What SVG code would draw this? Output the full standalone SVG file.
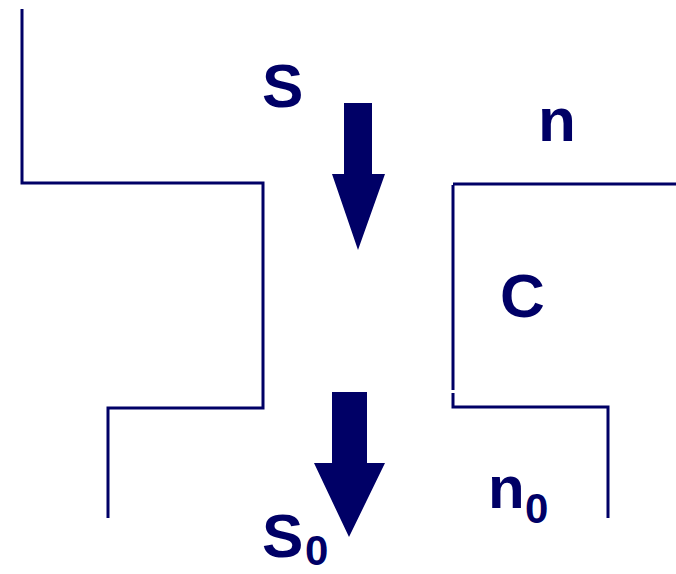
<svg xmlns="http://www.w3.org/2000/svg" width="676" height="574" viewBox="0 0 676 574">
<style>
.w{fill:none;stroke:#000066;stroke-width:3}
.t{font-family:"Liberation Sans",Arial,sans-serif;font-weight:bold;fill:#000066}
.a{fill:#000066}
</style>
<rect width="676" height="574" fill="#fff"/>
<g id="walls">
<polyline class="w" points="22,9 22,183 263,183 263,408 108,408 108,518"/>
<polyline class="w" points="453,185 453,390"/>
<polyline class="w" points="453,393 453,407 608,407 608,518"/>
<polyline class="w" points="453,184 676,184"/>
</g>
<g id="arrows">
<polygon class="a" points="344,103 372,103 372,174 385,174 358,250 332,174 344,174"/>
<polygon class="a" points="332,392 367,392 367,463 385,463 349,537 314,463 332,463"/>
</g>
<g id="labels">
<text class="t" x="262" y="107" font-size="62">S</text>
<text class="t" x="538" y="141" font-size="62">n</text>
<text class="t" x="500" y="317" font-size="62">C</text>
<text class="t" x="488" y="508" font-size="60">n<tspan x="525" y="523" font-size="42">0</tspan></text>
<text class="t" x="262" y="557" font-size="62">S<tspan x="305" y="565" font-size="42">0</tspan></text>
</g>
</svg>
